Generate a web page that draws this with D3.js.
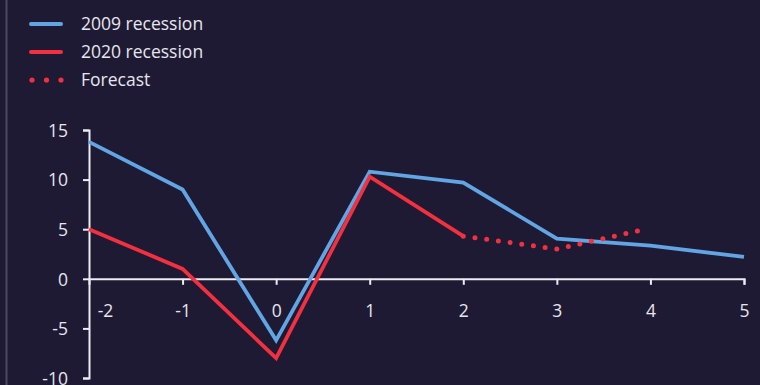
<!DOCTYPE html>
<html>
<head>
<meta charset="utf-8">
<script src="https://cdn.jsdelivr.net/npm/d3@7"></script>
<style>
  html, body { margin: 0; padding: 0; background: #1e1a33; }
  svg { display: block; }
  text { font-family: "Open Sans", sans-serif; fill: #e6e6ee; }
</style>
</head>
<body>
<div id="chart"></div>
<script>
// ---- data ----
const years = [-2, -1, 0, 1, 2, 3, 4, 5];
const recession2009 = [13.8, 9.0, -6.2, 10.8, 9.7, 4.05, 3.35, 2.2];
const years2020 = [-2, -1, 0, 1, 2];
const recession2020 = [5.0, 1.0, -8.0, 10.3, 4.3];
const forecastX = [2, 3, 3.9];
const forecastY = [4.3, 3.0, 4.9];
const yTicks = [-10, -5, 0, 5, 10, 15];
const xTicks = [-2, -1, 0, 1, 2, 3, 4, 5];
const legendLabels = ["2009 recession", "2020 recession", "Forecast"];

const W = 760, H = 385;
const BLUE = "#62a5e4", RED = "#f2303f", AXIS = "#ececf2";
const FS = 17.5;

const svg = d3.select("#chart").append("svg").attr("width", W).attr("height", H);
svg.append("rect").attr("width", W).attr("height", H).attr("fill", "#1e1a33");

// left thin rule
svg.append("line").attr("x1", 6.5).attr("x2", 6.5).attr("y1", 0).attr("y2", H)
  .attr("stroke", "#4b4862").attr("stroke-width", 2);

const x = d3.scaleLinear().domain([-2, 5]).range([89, 744]);
const y = d3.scaleLinear().domain([-10, 15]).range([378, 130]);
const fmt = d => String(d);

// y axis
const yAxis = svg.append("g").attr("transform", `translate(${x(-2)},0)`)
  .call(d3.axisLeft(y).tickValues(yTicks).tickSize(6).tickPadding(15).tickFormat(fmt));
yAxis.select(".domain").attr("stroke", AXIS).attr("stroke-width", 2);
yAxis.selectAll(".tick line").attr("stroke", AXIS).attr("stroke-width", 2);
yAxis.selectAll(".tick text").attr("font-size", FS).attr("font-family", "Open Sans").attr("fill", "#e6e6ee").attr("dy", "0.36em");

// x axis at zero
const xAxis = svg.append("g").attr("transform", `translate(0,${y(0)})`)
  .call(d3.axisBottom(x).tickValues(xTicks).tickSize(6).tickSizeOuter(6).tickPadding(20).tickFormat(fmt));
xAxis.select(".domain").attr("stroke", AXIS).attr("stroke-width", 2);
xAxis.selectAll(".tick line").attr("stroke", AXIS).attr("stroke-width", 2)
  .attr("display", d => d === -2 ? "none" : null);
xAxis.selectAll(".tick text").attr("font-size", FS).attr("font-family", "Open Sans").attr("fill", "#e6e6ee")
  .attr("dx", d => d === -2 ? 16 : 0);

// lines
const line = d3.line().x(d => x(d[0])).y(d => y(d[1]));
svg.append("path").datum(years.map((t, i) => [t, recession2009[i]]))
  .attr("d", line).attr("fill", "none").attr("stroke", BLUE).attr("stroke-width", 3.8)
  .attr("stroke-linejoin", "miter");
svg.append("path").datum(years2020.map((t, i) => [t, recession2020[i]]))
  .attr("d", line).attr("fill", "none").attr("stroke", RED).attr("stroke-width", 3.8)
  .attr("stroke-linejoin", "miter");
svg.append("path").datum(forecastX.map((t, i) => [t, forecastY[i]]))
  .attr("d", line).attr("fill", "none").attr("stroke", RED).attr("stroke-width", 5)
  .attr("stroke-linecap", "round").attr("stroke-dasharray", "0 11.8");

// legend
const lg = svg.append("g");
const rows = [
  { label: legendLabels[0], color: BLUE, dotted: false },
  { label: legendLabels[1], color: RED, dotted: false },
  { label: legendLabels[2], color: RED, dotted: true }
];
rows.forEach((r, i) => {
  const cy = 24 + i * 28;
  if (r.dotted) {
    [32, 46.5, 61].forEach(cx => lg.append("circle").attr("cx", cx).attr("cy", cy).attr("r", 2.6).attr("fill", r.color));
  } else {
    lg.append("line").attr("x1", 31).attr("x2", 61).attr("y1", cy).attr("y2", cy)
      .attr("stroke", r.color).attr("stroke-width", 4).attr("stroke-linecap", "round");
  }
  lg.append("text").attr("x", 81).attr("y", cy + 6).attr("font-size", FS).text(r.label);
});
</script>
</body>
</html>
